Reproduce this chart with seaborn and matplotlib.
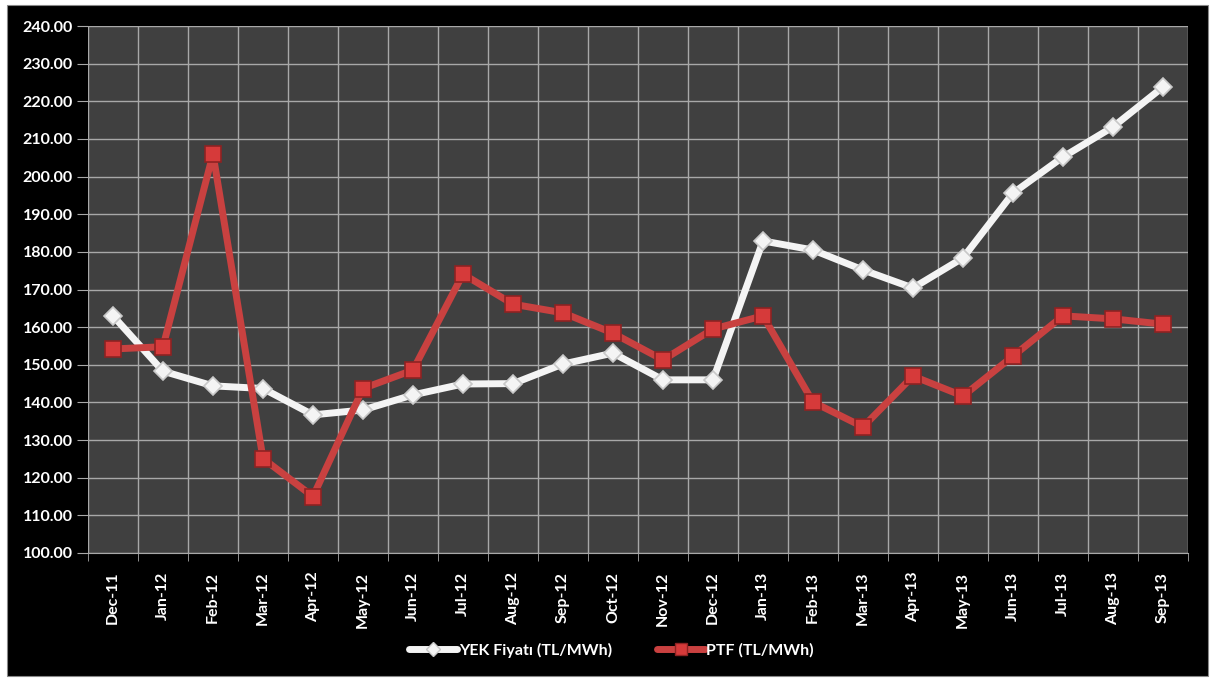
import numpy as np
import pandas as pd
import matplotlib
matplotlib.use('Agg')
import matplotlib.pyplot as plt
from matplotlib.patches import Rectangle
from matplotlib.ticker import FixedLocator, FormatStrFormatter
import seaborn as sns

# data
months = ['Dec-11', 'Jan-12', 'Feb-12', 'Mar-12', 'Apr-12', 'May-12', 'Jun-12', 'Jul-12',
          'Aug-12', 'Sep-12', 'Oct-12', 'Nov-12', 'Dec-12', 'Jan-13', 'Feb-13', 'Mar-13',
          'Apr-13', 'May-13', 'Jun-13', 'Jul-13', 'Aug-13', 'Sep-13']
yek = [163.0, 148.3, 144.4, 143.7, 136.7, 138.0, 142.0, 144.9, 145.0, 150.2, 153.1,
       146.0, 146.0, 182.9, 180.5, 175.2, 170.4, 178.4, 195.6, 205.2, 213.2, 223.8]
ptf = [154.2, 154.8, 206.0, 125.1, 115.0, 143.7, 148.6, 174.1, 166.1, 163.8, 158.4,
       151.3, 159.5, 163.0, 140.1, 133.5, 147.0, 141.7, 152.3, 163.0, 162.2, 160.8]
series_names = ['YEK Fiyatı (TL/MWh)', 'PTF (TL/MWh)']

df = pd.DataFrame({
    'month': months * 2,
    'value': yek + ptf,
    'series': [series_names[0]] * len(months) + [series_names[1]] * len(months),
})

sns.set_style('dark')
plt.rcParams['font.family'] = ['Lato', 'DejaVu Sans']

fig = plt.figure(figsize=(12.11, 6.78), dpi=100, facecolor='white')
fig.patches.append(Rectangle((7 / 1211, 2 / 678), 1201 / 1211, 671 / 678,
                             transform=fig.transFigure, facecolor='black',
                             edgecolor='#888888', linewidth=0.8, zorder=-10))
ax = fig.add_axes([88 / 1211, 1 - 553 / 678, 1100 / 1211, 527 / 678])
ax.set_facecolor('#404040')

palette = {series_names[0]: '#f4f4f4', series_names[1]: '#c94140'}
sns.lineplot(data=df, x='month', y='value', hue='series', style='series',
             markers={series_names[0]: 'D', series_names[1]: 's'}, dashes=False,
             palette=palette, sort=False, linewidth=5, markersize=10,
             ax=ax, legend=False)
ax.lines[0].set_markersize(9)
ax.lines[0].set_markeredgecolor('#c8c8c8')
ax.lines[1].set_markersize(12)
ax.lines[1].set_markerfacecolor('#d63a3a')
ax.lines[1].set_markeredgecolor('#8e2222')
for line in ax.lines:
    line.set_markeredgewidth(1.2)

ax.set_xlim(-0.5, len(months) - 0.5)
ax.set_ylim(100, 240)
ax.yaxis.set_major_locator(FixedLocator(np.arange(100, 241, 10)))
ax.yaxis.set_major_formatter(FormatStrFormatter('%.2f'))
ax.xaxis.set_minor_locator(FixedLocator(np.arange(-0.5, len(months), 1.0)))

ax.grid(False)
ax.grid(True, axis='y', which='major', color='#a8a8a8', linewidth=1)
ax.grid(True, axis='x', which='minor', color='#a8a8a8', linewidth=1)
ax.set_axisbelow(True)
for s in ax.spines.values():
    s.set_visible(False)
ax.spines['bottom'].set_visible(True)
ax.spines['bottom'].set_color('#a8a8a8')

ax.tick_params(axis='y', which='major', left=True, length=8, color='#a8a8a8',
               labelcolor='white', labelsize=11.5, pad=3)
ax.tick_params(axis='x', which='major', bottom=False, labelcolor='white',
               labelsize=11.5, labelrotation=90, pad=10)
ax.tick_params(axis='x', which='minor', bottom=True, length=6, color='#a8a8a8')
for lbl in ax.get_xticklabels() + ax.get_yticklabels():
    lbl.set_fontweight('bold')
ax.set_xlabel('')
ax.set_ylabel('')

handles = [
    plt.Line2D([], [], color='#f4f4f4', lw=5, marker='D', markersize=7,
               markeredgecolor='#c8c8c8'),
    plt.Line2D([], [], color='#c94140', lw=5, marker='s', markersize=9,
               markerfacecolor='#d63a3a', markeredgecolor='#8e2222'),
]
leg = fig.legend(handles, series_names, loc='center', bbox_to_anchor=(0.505, 1 - 650 / 678),
                 ncol=2, frameon=False, handlelength=3.0, handletextpad=0.1,
                 columnspacing=2.8, prop={'size': 11.5, 'weight': 'bold'})
for t in leg.get_texts():
    t.set_color('white')

fig.savefig('out.png', dpi=100, facecolor=fig.get_facecolor())
